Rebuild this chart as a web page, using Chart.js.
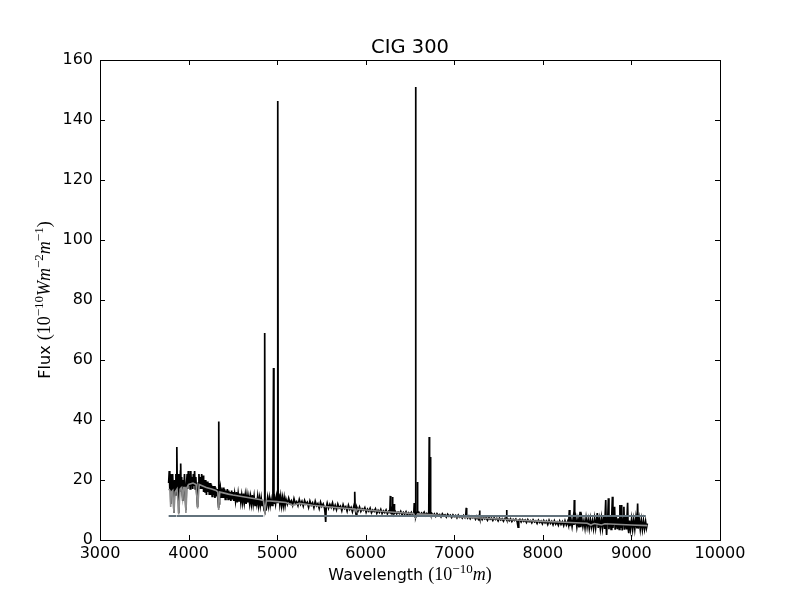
<!DOCTYPE html>
<html lang="en">
  <head>
    <meta charset="UTF-8" />
    <title>CIG 300</title>
    <script src="https://cdn.jsdelivr.net/npm/chart.js@4.4.1/dist/chart.umd.min.js"></script>
    <style>
      body {
        margin: 0;
        background: #ffffff;
      }
      #wrap {
        width: 800px;
        height: 600px;
      }
    </style>
  </head>
  <body>
    <div id="wrap"><canvas id="spectrum" width="800" height="600"></canvas></div>

    <script>
      // Observed spectrum (black)
      const blackWave = [
        3775, 3782, 3788, 3795, 3800, 3806, 3812, 3820, 3828, 3835, 3842, 3850, 3857, 3863, 3866, 3869, 3872, 3878, 3884, 3889,
        3895, 3902, 3908, 3911, 3915, 3922, 3928, 3934, 3940, 3947, 3954, 3960, 3970, 3977, 3984, 3990, 3997, 4004, 4011, 4018,
        4025, 4032, 4040, 4047, 4054, 4061, 4068, 4075, 4082, 4090, 4102, 4110, 4117, 4124, 4132, 4140, 4148, 4156, 4163, 4170,
        4178, 4186, 4194, 4202, 4210, 4218, 4226, 4234, 4242, 4250, 4258, 4266, 4274, 4282, 4290, 4298, 4306, 4314, 4322, 4330,
        4338, 4341, 4344, 4350, 4358, 4366, 4374, 4382, 4390, 4398, 4406, 4414, 4422, 4430, 4438, 4446, 4454, 4462, 4470, 4478,
        4486, 4494, 4502, 4510, 4520, 4530, 4540, 4550, 4560, 4570, 4580, 4590, 4600, 4610, 4620, 4630, 4640, 4650, 4660, 4670,
        4680, 4690, 4700, 4710, 4720, 4730, 4740, 4750, 4760, 4770, 4780, 4790, 4800, 4810, 4820, 4830, 4840, 4852, 4858, 4861,
        4864, 4872, 4882, 4892, 4902, 4912, 4922, 4932, 4942, 4952, 4959, 4964, 4972, 4982, 4992, 5002, 5007, 5012, 5020, 5030,
        5040, 5050, 5060, 5070, 5080, 5090,
        5100, 5115, 5130, 5145, 5160, 5175, 5190, 5205, 5220, 5235,
        5250, 5265, 5280, 5295, 5310, 5325, 5340, 5355, 5370, 5385,
        5400, 5415, 5430, 5445, 5460, 5475, 5490, 5505, 5520, 5535,
        5541, 5548, 5554, 5565, 5580, 5595, 5610, 5625, 5640, 5655,
        5670, 5685, 5700, 5715, 5730, 5745, 5760, 5775, 5790, 5805,
        5820, 5835, 5850, 5865, 5871, 5876, 5881, 5892, 5900, 5915,
        5930, 5945, 5960, 5975, 5990, 6005, 6020, 6035, 6050, 6065,
        6080, 6095, 6110, 6125, 6140, 6155, 6170, 6185, 6200, 6215,
        6230, 6245, 6260, 6272, 6278, 6283, 6292, 6297, 6302, 6307,
        6316, 6320, 6325, 6335, 6350, 6365, 6380, 6395, 6410, 6425,
        6440, 6455, 6470, 6485, 6500, 6515, 6530, 6543, 6548, 6553,
        6559, 6563, 6567, 6575, 6580, 6584, 6588, 6600, 6615, 6630,
        6645, 6660, 6675, 6690, 6705, 6712, 6717, 6721, 6727, 6731,
        6735, 6745, 6760, 6775, 6790, 6805, 6820, 6835, 6850, 6865,
        6880, 6895, 6910, 6925, 6940, 6955, 6970, 6985, 7000, 7015,
        7030, 7045, 7060, 7075, 7090, 7105, 7120, 7130, 7135, 7140,
        7150, 7165, 7180, 7195, 7210, 7225, 7240, 7255, 7270, 7280,
        7285, 7290, 7300, 7315, 7330, 7345, 7360, 7375, 7390, 7405,
        7420, 7435, 7450, 7465, 7480, 7495, 7510, 7525, 7540, 7555,
        7570, 7585, 7590, 7595, 7605, 7620, 7635, 7650, 7665, 7680,
        7695, 7710, 7720, 7728, 7740, 7755, 7770, 7785, 7800, 7815,
        7830, 7845, 7860, 7875, 7890, 7905, 7920, 7935, 7950, 7965,
        7980, 7995, 8010, 8025, 8040, 8055, 8070, 8085, 8100, 8115,
        8130, 8145, 8160, 8175, 8190, 8205, 8220, 8235, 8250, 8265,
        8280, 8290, 8299, 8305, 8318, 8330, 8342, 8350, 8355, 8360,
        8372, 8384, 8396, 8408, 8420, 8428, 8440, 8452, 8464, 8476,
        8488, 8500, 8512, 8524, 8536, 8548, 8560, 8572, 8584, 8596,
        8615, 8625, 8637, 8649, 8661, 8673, 8685, 8697, 8710, 8716,
        8720, 8726, 8733, 8740, 8746, 8758, 8770, 8778, 8785, 8791,
        8800, 8810, 8816, 8828, 8840, 8852, 8862, 8870, 8876, 8884,
        8890, 8896, 8906, 8915, 8921, 8932, 8944, 8957, 8963, 8970,
        8978, 8990, 9002, 9014, 9026, 9038, 9050, 9062, 9070, 9076,
        9088, 9100, 9112, 9124, 9136, 9148, 9160, 9170, 9180
      ];
      const blackFlux = [
        19, 23, 17, 22, 12, 21, 16, 22, 15, 9, 20, 15, 22, 17, 20, 31, 19, 16, 22, 9,
        20, 16, 23, 25.5, 18, 21, 16, 13, 20, 17, 22, 16, 10, 19, 22, 17, 23, 18, 22, 17,
        23, 18, 21, 17, 22, 18, 23, 17, 21, 16, 11, 19, 22, 17, 21, 17, 22, 17, 21.5, 16,
        20, 16, 20, 15, 19.5, 16, 19, 15, 19, 15, 18.5, 14.5, 18, 15, 18, 14, 17.5, 14.5, 17, 14,
        11, 39.5, 12, 16, 17.5, 14, 17, 14, 17.5, 14, 17, 13.5, 16.5, 14, 17, 13.5, 16.5, 13.5, 16, 13,
        16.5, 13.5, 16, 13, 15.5, 13, 16, 12.5, 15.5, 13, 15.5, 12.5, 15, 12.5, 15.5, 12.5, 15, 12, 15, 12.5,
        14.5, 12, 14.5, 12, 15, 12, 14.5, 11.5, 14, 12, 14.5, 11.5, 14, 11.5, 14, 11.5, 13, 10, 9.5, 69,
        10, 13, 11.5, 14, 11.5, 14, 11.5, 13.5, 11.5, 13, 57.3, 12, 14, 12, 14.5, 12.5, 146.3, 13, 15.5, 12,
        14.5, 11.5, 14, 11.5, 14, 11.5,
        13.6, 12.0, 13.9, 12.3, 13.1, 11.6, 13.8, 12.2, 12.8, 11.5,
        13.5, 11.9, 12.9, 11.3, 13.2, 12.0, 12.6, 10.9, 13.0, 11.6,
        12.4, 10.8, 12.9, 11.4, 12.1, 10.5, 12.6, 11.2, 12.0, 10.6,
        9.0, 6.0, 10.8, 12.3, 10.6, 11.9, 10.9, 12.4, 10.4, 11.6,
        10.1, 12.0, 10.7, 11.3, 9.8, 11.8, 10.5, 11.1, 9.6, 11.6,
        10.2, 10.9, 9.4, 11.2, 10.3, 16.1, 10.4, 8.3, 10.9, 9.8,
        11.0, 9.5, 10.4, 9.9, 10.8, 9.2, 10.3, 9.6, 10.6, 9.1,
        10.0, 9.5, 10.4, 8.9, 9.9, 9.2, 10.2, 8.8, 9.7, 9.1,
        10.0, 8.7, 9.6, 9.2, 14.7, 9.5, 9.0, 10.0, 14.3, 9.3,
        9.6, 12.0, 9.0, 9.5, 8.7, 9.3, 8.8, 9.6, 8.4, 9.2,
        8.6, 9.4, 8.3, 9.1, 8.5, 9.2, 8.2, 8.9, 12.3, 8.4,
        7.6, 151, 7.8, 8.9, 8.6, 19.3, 8.6, 9.2, 8.3, 9.0,
        8.5, 9.3, 8.2, 8.9, 8.4, 9.0, 34.3, 8.9, 9.2, 27.7,
        8.6, 8.9, 8.1, 8.7, 7.9, 8.8, 8.2, 8.5, 7.7, 8.7,
        8.0, 8.4, 7.6, 8.6, 7.9, 8.3, 7.5, 8.4, 7.8, 8.2,
        7.4, 8.3, 7.6, 8.0, 7.3, 8.2, 7.5, 8.3, 10.7, 7.8,
        7.3, 8.0, 7.1, 7.9, 7.4, 7.8, 6.9, 7.9, 7.0, 8.0,
        9.8, 7.2, 7.7, 6.8, 7.6, 7.0, 7.5, 6.6, 7.6, 6.9,
        7.3, 6.5, 7.4, 6.8, 7.2, 6.4, 7.3, 6.7, 7.1, 6.3,
        7.2, 7.4, 10.0, 6.8, 7.0, 6.4, 7.1, 6.2, 6.9, 6.5,
        7.0, 6.1, 4.3, 6.6, 6.9, 6.0, 6.8, 6.2, 6.7, 5.8,
        6.8, 6.1, 6.5, 5.7, 6.7, 6.0, 6.4, 5.5, 6.6, 5.8,
        6.3, 5.4, 6.5, 5.7, 6.3, 5.2, 6.6, 5.5, 6.2, 5.1,
        6.4, 5.3, 6.0, 4.9, 6.3, 5.2, 6.1, 4.8, 6.4, 5.0,
        6.2, 5.0, 10.0, 4.6, 6.8, 4.5, 7.2, 5.0, 13.3, 5.2,
        7.4, 4.4, 6.9, 4.2, 9.4, 4.3, 7.1, 4.5, 6.5, 4.0,
        7.3, 4.4, 6.8, 3.9, 7.0, 4.3, 6.4, 3.9, 7.2, 4.1,
        9.0, 4.0, 6.9, 3.8, 7.3, 4.0, 7.6, 3.7, 13.3, 3.5,
        1.7, 6.5, 7.4, 13.9, 3.6, 7.8, 3.5, 8.2, 14.4, 4.0,
        7.0, 11.1, 3.4, 7.9, 3.6, 7.2, 3.5, 11.7, 4.0, 7.5,
        11.7, 3.2, 7.0, 11.1, 3.4, 7.8, 3.5, 12.4, 3.8, 2.3,
        6.5, 3.6, 7.0, 3.6, 6.8, 3.7, 7.3, 3.9, 12.2, 3.8,
        6.9, 3.6, 6.7, 3.5, 6.4, 3.7, 6.2, 4.0, 5.5
      ];

      // Fitted model (grey)
      const modelWave = [
        3775, 3790, 3798, 3806, 3822, 3835, 3848, 3870, 3889, 3905, 3922, 3934, 3946, 3960, 3970, 3982, 4000, 4050, 4085, 4102,
        4120, 4160, 4200, 4260, 4310, 4330, 4340, 4352, 4380, 4450, 4500, 4600, 4700, 4800, 4845, 4861, 4878, 4920, 5000, 5100,
        5175, 5250, 5400, 5600, 5800, 5880, 5892, 5905, 6000, 6200, 6400, 6540, 6563, 6586, 6700, 6800, 7000, 7250, 7500, 7750,
        8000, 8250, 8500, 8542, 8580, 8662, 8700, 9000, 9180
      ];
      const modelFlux = [
        17, 16.5, 11, 16, 16.5, 9, 16, 17, 8.5, 17, 17.5, 14, 17.5, 17.5, 9, 17.5, 18.5, 19, 18.5, 10.5,
        18.5, 18, 17.5, 17, 16.5, 16, 10, 16, 15.8, 15.3, 15, 14.5, 14, 13.5, 13.2, 9.5, 13, 13, 12.8, 12.5,
        11.5, 12.2, 11.6, 11, 10.5, 10.3, 9.5, 10.3, 10, 9.5, 9.1, 8.8, 7.5, 8.7, 8.5, 8.3, 7.8, 7.4, 7, 6.6,
        6.2, 5.9, 5.6, 5, 5.5, 5, 5.4, 5, 4.8
      ];

      // Fit mask (slate line); null breaks the line
      const maskWave = [3775, 3860, 3863, 3866, 4843, 4928, 5013, 9162];
      const maskFlux = [8, 8, null, 8, 8, null, 8, 8];

      const xTicks = [3000, 4000, 5000, 6000, 7000, 8000, 9000, 10000];
      const yTicks = [0, 20, 40, 60, 80, 100, 120, 140, 160];

      const pairs = (xs, ys) => xs.map((x, i) => ({ x: x, y: ys[i] }));

      const SANS = '"DejaVu Sans", sans-serif';
      const SERIF = '"Liberation Serif", "DejaVu Serif", serif';

      // draw a run of text pieces in different fonts, centred on (0,0)
      function drawRich(ctx, parts) {
        let total = 0;
        parts.forEach((p) => {
          ctx.font = p.font;
          p.w = ctx.measureText(p.text).width;
          total += p.w;
        });
        let x = -total / 2;
        parts.forEach((p) => {
          ctx.font = p.font;
          ctx.fillText(p.text, x, p.dy || 0);
          x += p.w;
        });
      }

      const frame = {
        id: "frame",
        afterDraw(chart) {
          const ctx = chart.ctx;
          const { left, right, top, bottom } = chart.chartArea;
          const xs = chart.scales.x;
          const ys = chart.scales.y;
          ctx.save();
          ctx.strokeStyle = "#000";
          ctx.lineWidth = 1;
          ctx.beginPath();
          xTicks.forEach((t) => {
            const px = Math.round(xs.getPixelForValue(t)) + 0.5;
            ctx.moveTo(px, bottom);
            ctx.lineTo(px, bottom - 5);
            ctx.moveTo(px, top);
            ctx.lineTo(px, top + 5);
          });
          yTicks.forEach((t) => {
            const py = Math.round(ys.getPixelForValue(t)) + 0.5;
            ctx.moveTo(left, py);
            ctx.lineTo(left + 5, py);
            ctx.moveTo(right, py);
            ctx.lineTo(right - 5, py);
          });
          ctx.stroke();
          ctx.strokeRect(left + 0.5, top + 0.5, right - left, bottom - top);

          ctx.fillStyle = "#000";
          ctx.textBaseline = "alphabetic";
          ctx.textAlign = "left";

          // title
          ctx.save();
          ctx.translate((left + right) / 2, 52.5);
          drawRich(ctx, [{ text: "CIG 300", font: "19.5px " + SANS }]);
          ctx.restore();

          // x label
          ctx.save();
          ctx.translate((left + right) / 2, 580);
          drawRich(ctx, [
            { text: "Wavelength ", font: "16px " + SANS },
            { text: "(10", font: "18px " + SERIF },
            { text: "\u221210", font: "13px " + SERIF, dy: -7 },
            { text: "m", font: "italic 18px " + SERIF },
            { text: ")", font: "18px " + SERIF },
          ]);
          ctx.restore();

          // y label
          ctx.save();
          ctx.translate(50, (top + bottom) / 2);
          ctx.rotate(-Math.PI / 2);
          drawRich(ctx, [
            { text: "Flux ", font: "16px " + SANS },
            { text: "(10", font: "18px " + SERIF },
            { text: "\u221210", font: "13px " + SERIF, dy: -7 },
            { text: "Wm", font: "italic 18px " + SERIF },
            { text: "\u22122", font: "13px " + SERIF, dy: -7 },
            { text: "m", font: "italic 18px " + SERIF },
            { text: "\u22121", font: "13px " + SERIF, dy: -7 },
            { text: ")", font: "18px " + SERIF },
          ]);
          ctx.restore();
          ctx.restore();
        },
      };

      new Chart(document.getElementById("spectrum"), {
        type: "line",
        data: {
          datasets: [
            {
              label: "observed",
              data: pairs(blackWave, blackFlux),
              borderColor: "#000000",
              borderWidth: 1.7,
              pointRadius: 0,
              tension: 0,
              order: 3,
            },
            {
              label: "model",
              data: pairs(modelWave, modelFlux),
              borderColor: "#8c8c8c",
              borderWidth: 1.6,
              pointRadius: 0,
              tension: 0,
              order: 2,
            },
            {
              label: "mask",
              data: pairs(maskWave, maskFlux),
              borderColor: "#62727c",
              borderWidth: 2,
              pointRadius: 0,
              tension: 0,
              spanGaps: false,
              order: 1,
            },
          ],
        },
        options: {
          responsive: false,
          animation: false,
          events: [],
          layout: { padding: { left: 0, right: 80, top: 60, bottom: 0 } },
          plugins: {
            legend: { display: false },
            tooltip: { enabled: false },
          },
          scales: {
            x: {
              type: "linear",
              min: 3000,
              max: 10000,
              afterFit: (s) => {
                s.height = 60;
              },
              afterBuildTicks: (s) => {
                s.ticks = xTicks.map((v) => ({ value: v }));
              },
              grid: { display: false, drawTicks: false },
              border: { display: false },
              ticks: {
                padding: 4,
                maxRotation: 0,
                autoSkip: false,
                color: "#000",
                font: { family: SANS, size: 16 },
                callback: (v) => String(v),
              },
            },
            y: {
              min: 0,
              max: 160,
              afterFit: (s) => {
                s.width = 100;
              },
              afterBuildTicks: (s) => {
                s.ticks = yTicks.map((v) => ({ value: v }));
              },
              grid: { display: false, drawTicks: false },
              border: { display: false },
              ticks: {
                padding: 7,
                color: "#000",
                font: { family: SANS, size: 16 },
                callback: (v) => String(v),
              },
            },
          },
        },
        plugins: [frame],
      });
    </script>
  </body>
</html>
